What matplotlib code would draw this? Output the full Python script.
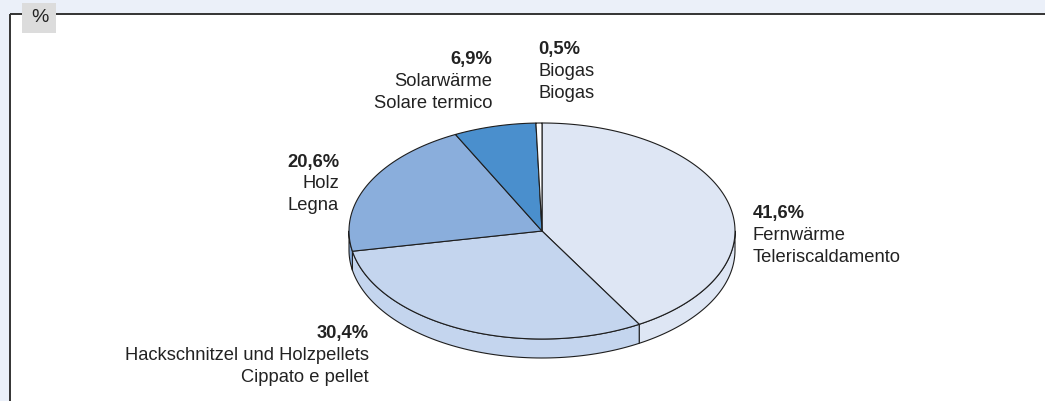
import numpy as np
import matplotlib
matplotlib.use("Agg")
import matplotlib.pyplot as plt
from matplotlib.patches import Polygon, Rectangle

plt.rcParams['font.family'] = ['Liberation Sans', 'DejaVu Sans']

# Shares of heat sources (%), clockwise from 12 o'clock
categories_de = ["Fernwärme", "Hackschnitzel und Holzpellets", "Holz", "Solarwärme", "Biogas"]
categories_it = ["Teleriscaldamento", "Cippato e pellet", "Legna", "Solare termico", "Biogas"]
values = [41.6, 30.4, 20.6, 6.9, 0.5]
colors = ["#DEE6F4", "#C4D5EE", "#8AAEDC", "#4A8FCD", "#FFFFFF"]

W, H = 1045, 401
fig = plt.figure(figsize=(W / 100, H / 100), dpi=100)
fig.patch.set_facecolor("#EBF0F9")
ax = fig.add_axes([0, 0, 1, 1])
ax.set_xlim(0, W)
ax.set_ylim(H, 0)
ax.axis("off")

# white panel with frame on top and left
ax.add_patch(Rectangle((9.5, 14), W, H, facecolor="white", edgecolor="none", zorder=0))
ax.plot([9.5, W], [14, 14], color="#333333", lw=1.4, zorder=1, solid_capstyle="butt")
ax.plot([9.5, 9.5], [14, H], color="#333333", lw=1.4, zorder=1, solid_capstyle="butt")
ax.add_patch(Rectangle((22, 3), 34, 30, facecolor="#DCDCDC", edgecolor="none", zorder=2))
ax.text(39.5, 18, "%", ha="center", va="center", fontsize=14, color="#222222", zorder=3)

# 3D pie geometry
cx, cy, a, b, depth = 542, 231, 193, 108, 19
edge = "#1E1E1E"
lw = 0.8


def pt(theta_deg, dy=0.0):
    t = np.radians(theta_deg)
    return cx + a * np.sin(t), cy - b * np.cos(t) + dy


fracs = np.array(values) / np.sum(values)
bounds = np.concatenate([[0], np.cumsum(fracs) * 360])

# side walls (visible on the front half: 90..270 degrees)
for i in range(len(values)):
    t0, t1 = max(bounds[i], 90), min(bounds[i + 1], 270)
    if t1 <= t0:
        continue
    th = np.linspace(t0, t1, 80)
    top = np.array([pt(t) for t in th])
    bot = np.array([pt(t, depth) for t in th[::-1]])
    ax.add_patch(Polygon(np.vstack([top, bot]), closed=True, facecolor=colors[i],
                         edgecolor=edge, lw=lw, joinstyle="round", zorder=4))

# top face
for i in range(len(values)):
    th = np.linspace(bounds[i], bounds[i + 1], 200)
    arc = np.array([pt(t) for t in th])
    poly = np.vstack([[cx, cy], arc])
    ax.add_patch(Polygon(poly, closed=True, facecolor=colors[i],
                         edgecolor=edge, lw=lw, joinstyle="round", zorder=5))

# labels: (x, baseline of first line, alignment)
label_pos = [
    (753, 218, "left"),
    (369, 338, "right"),
    (339, 167, "right"),
    (492, 64, "right"),
    (538, 54, "left"),
]
fs = 13.2
tc = "#222222"
for i, (x, y0, ha) in enumerate(label_pos):
    pct = f"{values[i]:.1f}%".replace(".", ",")
    ax.text(x, y0, pct, ha=ha, va="baseline", fontsize=fs, fontweight="bold", color=tc, zorder=6)
    ax.text(x, y0 + 21.5, categories_de[i], ha=ha, va="baseline", fontsize=fs, color=tc, zorder=6)
    ax.text(x, y0 + 43.5, categories_it[i], ha=ha, va="baseline", fontsize=fs, color=tc, zorder=6)

fig.savefig("out.png", dpi=100, facecolor=fig.get_facecolor())
